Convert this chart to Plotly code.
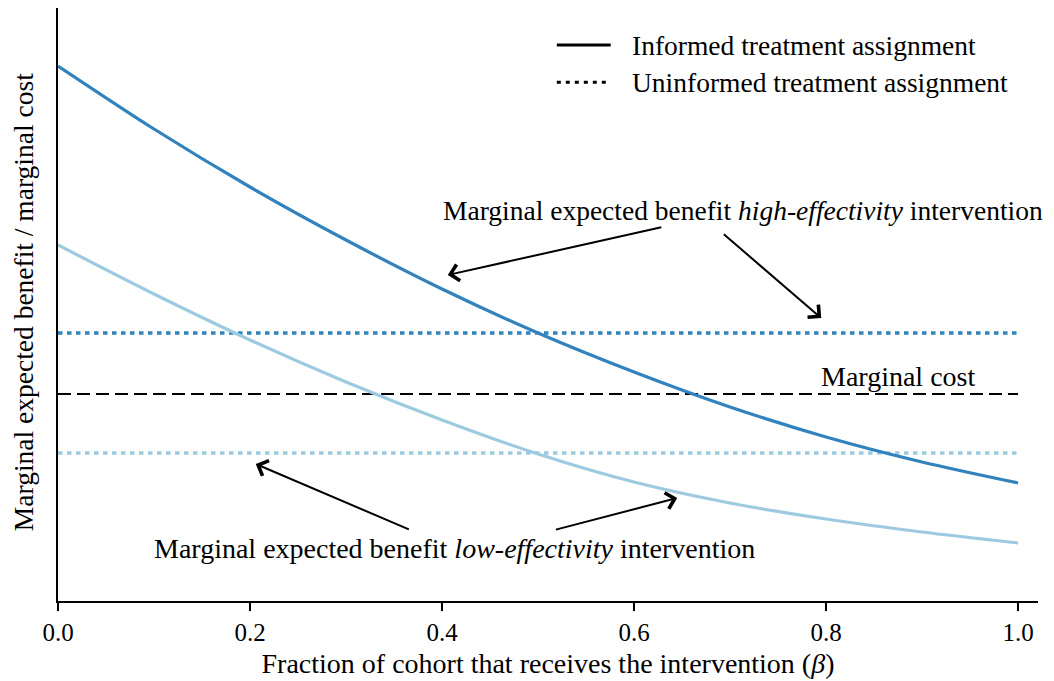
import plotly.graph_objects as go

# ---------------- data ----------------
beta = [0.0, 0.1, 0.2, 0.3, 0.4, 0.5, 0.6, 0.7, 0.8, 0.9, 1.0]
high_informed = [5.35, 4.72, 4.14, 3.61, 3.12, 2.68, 2.29, 1.94, 1.64, 1.39, 1.18]
low_informed = [3.56, 3.07, 2.61, 2.19, 1.81, 1.47, 1.19, 0.98, 0.82, 0.69, 0.58]
flat_x = [0.0, 1.0]
high_uninformed = 2.68
low_uninformed = 1.48
marginal_cost = 2.07

x_tickvals = [0.0, 0.2, 0.4, 0.6, 0.8, 1.0]
x_ticktext = ["0.0", "0.2", "0.4", "0.6", "0.8", "1.0"]

# ---------------- style ----------------
FONT = "Liberation Serif"
DARK = "#3182bd"
LIGHT = "#9ecae1"
TXT = 28
LEG = 27.5

fig = go.Figure()

fig.add_trace(go.Scatter(x=flat_x, y=[high_uninformed] * 2, mode="lines",
                         line=dict(color=DARK, width=3.5, dash="4.5px,4.5px"),
                         showlegend=False, hoverinfo="skip"))
fig.add_trace(go.Scatter(x=flat_x, y=[low_uninformed] * 2, mode="lines",
                         line=dict(color=LIGHT, width=3.5, dash="4.5px,4.5px"),
                         showlegend=False, hoverinfo="skip"))
fig.add_trace(go.Scatter(x=flat_x, y=[marginal_cost] * 2, mode="lines",
                         line=dict(color="black", width=2.2, dash="13px,6px"),
                         showlegend=False, hoverinfo="skip"))
fig.add_trace(go.Scatter(x=beta, y=high_informed, mode="lines",
                         line=dict(color=DARK, width=3.2, shape="spline", smoothing=0.8),
                         showlegend=False))
fig.add_trace(go.Scatter(x=beta, y=low_informed, mode="lines",
                         line=dict(color=LIGHT, width=3.2, shape="spline", smoothing=0.8),
                         showlegend=False))

annotations = []

def label(text, x, y, xanchor="center", size=TXT):
    annotations.append(dict(x=x, y=y, xref="x", yref="y", text=text, showarrow=False,
                            xanchor=xanchor, yanchor="middle",
                            font=dict(family=FONT, size=size, color="black")))

def arrow(x_head, y_head, x_tail, y_tail):
    annotations.append(dict(x=x_head, y=y_head, ax=x_tail, ay=y_tail,
                            xref="x", yref="y", axref="x", ayref="y",
                            text="", showarrow=True, arrowhead=4, arrowsize=1.6,
                            arrowwidth=2, arrowcolor="black", standoff=0))

label("Marginal expected benefit <i>high-effectivity</i> intervention", 0.713, 3.91, size=LEG)
label("Marginal expected benefit <i>low-effectivity</i> intervention", 0.4125, 0.53)
label("Marginal cost", 0.957, 2.25, xanchor="right")

arrow(0.406, 3.26, 0.630, 3.74)
arrow(0.795, 2.83, 0.692, 3.68)
arrow(0.206, 1.37, 0.367, 0.71)
arrow(0.645, 1.03, 0.517, 0.71)

# y-axis title (rotated)
annotations.append(dict(x=-0.0357, y=0.504, xref="paper", yref="paper",
                        text="Marginal expected benefit / marginal cost",
                        textangle=-90, showarrow=False, xanchor="center", yanchor="middle",
                        font=dict(family=FONT, size=LEG, color="black")))

# manual legend
legend_rows = [("Informed treatment assignment", "solid", 0.9376),
               ("Uninformed treatment assignment", "4px,5px", 0.875)]
shapes = []
for txt, dash, yy in legend_rows:
    shapes.append(dict(type="line", xref="paper", yref="paper", x0=0.509, x1=0.564,
                       y0=yy, y1=yy, line=dict(color="black", width=3, dash=dash)))
    annotations.append(dict(x=0.584, y=yy, xref="paper", yref="paper", text=txt,
                            showarrow=False, xanchor="left", yanchor="middle",
                            font=dict(family=FONT, size=LEG, color="black")))

# page body has an 8px default margin, so the figure is 8px smaller each way
fig.update_layout(
    width=1046, height=673,
    margin=dict(l=50, r=16, t=0, b=80),
    plot_bgcolor="white", paper_bgcolor="white",
    font=dict(family=FONT, color="black"),
    annotations=annotations, shapes=shapes,
    showlegend=False,
)
fig.update_xaxes(range=[0, 1.0208], showline=True, linecolor="black", linewidth=2,
                 ticks="outside", ticklen=8, tickwidth=1.5, tickcolor="black",
                 tickvals=x_tickvals, ticktext=x_ticktext, showgrid=False, zeroline=False,
                 tickfont=dict(family=FONT, size=25, color="black"),
                 title=dict(text="Fraction of cohort that receives the intervention (<i>β</i>)",
                            font=dict(family=FONT, size=TXT, color="black"), standoff=8))
fig.update_yaxes(range=[0, 5.93], showline=True, linecolor="black", linewidth=1.5,
                 showticklabels=False, ticks="", showgrid=False, zeroline=False)

fig.write_html("out.html")
